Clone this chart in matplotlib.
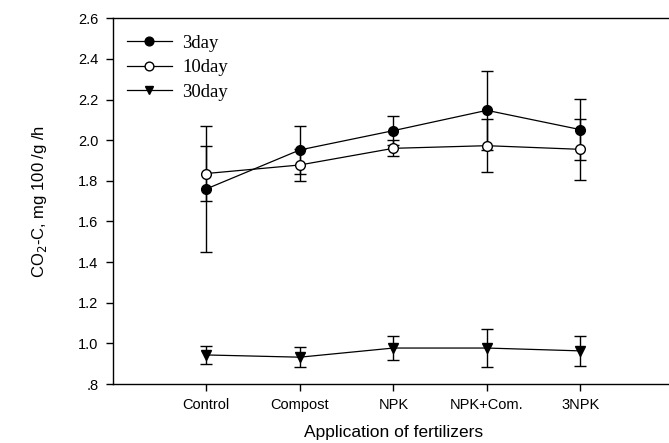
import matplotlib
matplotlib.use("Agg")
import matplotlib.pyplot as plt
from matplotlib.ticker import FixedLocator
from matplotlib.lines import Line2D

categories = ["Control", "Compost", "NPK", "NPK+Com.", "3NPK"]
day3 = [1.760, 1.952, 2.047, 2.147, 2.052]
day3_err = [0.308, 0.120, 0.070, 0.195, 0.150]
day10 = [1.836, 1.878, 1.960, 1.973, 1.955]
day10_err = [0.135, 0.080, 0.040, 0.130, 0.150]
day30 = [0.943, 0.932, 0.977, 0.977, 0.963]
day30_err = [0.045, 0.048, 0.060, 0.095, 0.074]
yticks = [0.8, 1.0, 1.2, 1.4, 1.6, 1.8, 2.0, 2.2, 2.4, 2.6]
ytick_labels = [".8", "1.0", "1.2", "1.4", "1.6", "1.8", "2.0", "2.2", "2.4", "2.6"]

plt.rcParams['font.family'] = ['Liberation Sans', 'DejaVu Sans']

W, H = 669, 443
fig = plt.figure(figsize=(W/100, H/100), dpi=100)
ax = fig.add_axes([112.7/W, 59/H, (674-112.7)/W, (384-18.3)/H])

x = list(range(1, len(categories) + 1))
ms = 7.0
common = dict(color='black', ecolor='black', elinewidth=1.0, capsize=4.3,
              capthick=1.0, linewidth=0.9, markersize=ms)
ax.errorbar(x, day30, yerr=day30_err, marker='v', markerfacecolor='black',
            markeredgecolor='black', zorder=3, **common)
ax.errorbar(x, day3, yerr=day3_err, marker='o', markerfacecolor='black',
            markeredgecolor='black', zorder=4, **common)
ax.errorbar(x, day10, yerr=day10_err, marker='o', markerfacecolor='white',
            markeredgecolor='black', zorder=5, **common)

ax.set_xlim(0, 6)
ax.set_ylim(0.8, 2.6)
ax.set_xticks(x)
ax.set_xticklabels(categories, fontsize=10.5)
ax.yaxis.set_major_locator(FixedLocator(yticks))
ax.set_yticklabels(ytick_labels, fontsize=10.5)
ax.tick_params(direction='out', length=4.8, width=1.0, pad=5.5)
for s in ax.spines.values():
    s.set_linewidth(1.0)
ax.spines['right'].set_visible(False)

ax.set_xlabel("Application of fertilizers", fontsize=12.5, labelpad=9)
ax.set_ylabel("CO$_2$-C, mg 100 /g /h", fontsize=12, labelpad=21)

handles = [
    Line2D([], [], color='black', lw=0.9, marker='o', markersize=6.3,
           markerfacecolor='black', markeredgecolor='black'),
    Line2D([], [], color='black', lw=0.9, marker='o', markersize=6.3,
           markerfacecolor='white', markeredgecolor='black'),
    Line2D([], [], color='black', lw=0.9, marker='v', markersize=6.3,
           markerfacecolor='black', markeredgecolor='black'),
]
labels = ["3day", "10day", "30day"]
fig.legend(handles, labels, loc='upper left',
           bbox_to_anchor=(126.7/W, 1 - 34.5/H), frameon=False,
           handlelength=2.4, handletextpad=0.55, labelspacing=0.4,
           borderpad=0, borderaxespad=0,
           prop={'family': 'Liberation Serif', 'size': 13.5})

fig.savefig("out.png", dpi=100)
